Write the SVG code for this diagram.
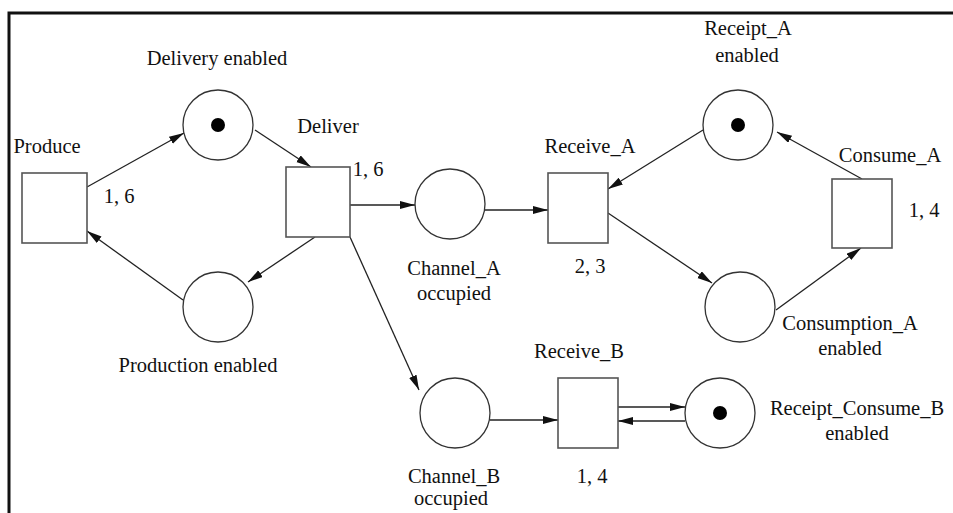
<svg xmlns="http://www.w3.org/2000/svg" width="953" height="513" viewBox="0 0 953 513">
<defs>
<marker id="ah" markerUnits="userSpaceOnUse" markerWidth="16" markerHeight="10" refX="15" refY="4" orient="auto">
<path d="M0,0 L15,4 L0,8 z" fill="#111"/>
</marker>
<style>
.frame{fill:none;stroke:#111;stroke-width:3}
.tr{fill:#fff;stroke:#555;stroke-width:1.6}
.pl{fill:#fff;stroke:#333;stroke-width:1.3}
.tok{fill:#000}
.arc{fill:none;stroke:#222;stroke-width:1.3;marker-end:url(#ah)}
text{font-family:"Liberation Serif","Times New Roman",serif;font-size:20.5px;fill:#111;text-anchor:middle}
</style>
</defs>
<rect width="953" height="513" fill="#fff"/>
<path class="frame" d="M9,513 L9,13 L953,13"/>
<g id="connectors">
<path class="arc" d="M87,187 L184,133"/>
<path class="arc" d="M255,130 L311,167"/>
<path class="arc" d="M315,237 L248,282"/>
<path class="arc" d="M183,300 L87,231"/>
<path class="arc" d="M348,205 L415,205"/>
<path class="arc" d="M350,237 L419,390"/>
<path class="arc" d="M485,210 L548,210"/>
<path class="arc" d="M703,130 L608,189"/>
<path class="arc" d="M608,213 L712,283"/>
<path class="arc" d="M776,310 L861,248"/>
<path class="arc" d="M862,179 L777,132"/>
<path class="arc" d="M490,420 L558,420"/>
<path class="arc" d="M613,407 L685,407"/>
<path class="arc" d="M685,421 L618,421"/>
</g>
<g id="produce">
<rect class="tr" x="22" y="173" width="65" height="70"/>
<text x="47" y="153">Produce</text>
<text x="119" y="203">1, 6</text>
</g>
<g id="delivery_enabled">
<circle class="pl" cx="218" cy="125" r="35"/>
<circle class="tok" cx="218" cy="125" r="7"/>
<text x="217" y="65">Delivery enabled</text>
</g>
<g id="deliver">
<rect class="tr" x="286" y="167" width="64" height="70"/>
<text x="328" y="133">Deliver</text>
<text x="368" y="176">1, 6</text>
</g>
<g id="production_enabled">
<circle class="pl" cx="218" cy="307" r="35"/>
<text x="198" y="372">Production enabled</text>
</g>
<g id="channel_a">
<circle class="pl" cx="450" cy="204" r="35"/>
<text x="454" y="275">Channel_A</text>
<text x="454" y="300">occupied</text>
</g>
<g id="receive_a">
<rect class="tr" x="548" y="173" width="60" height="70"/>
<text x="590" y="153">Receive_A</text>
<text x="590" y="273">2, 3</text>
</g>
<g id="receipt_a_enabled">
<circle class="pl" cx="738" cy="125" r="35"/>
<circle class="tok" cx="738" cy="125" r="7"/>
<text x="748" y="35">Receipt_A</text>
<text x="747" y="62">enabled</text>
</g>
<g id="consume_a">
<rect class="tr" x="832" y="179" width="60" height="69"/>
<text x="890" y="162">Consume_A</text>
<text x="924" y="217">1, 4</text>
</g>
<g id="consumption_a_enabled">
<circle class="pl" cx="740" cy="307" r="35"/>
<text x="850" y="330">Consumption_A</text>
<text x="850" y="355">enabled</text>
</g>
<g id="channel_b">
<circle class="pl" cx="455" cy="413" r="35"/>
<text x="454" y="483">Channel_B</text>
<text x="451" y="505">occupied</text>
</g>
<g id="receive_b">
<rect class="tr" x="558" y="378" width="60" height="70"/>
<text x="579" y="358">Receive_B</text>
<text x="592" y="483">1, 4</text>
</g>
<g id="receipt_consume_b_enabled">
<circle class="pl" cx="720" cy="413" r="35"/>
<circle class="tok" cx="720" cy="413" r="7"/>
<text x="857" y="415">Receipt_Consume_B</text>
<text x="857" y="440">enabled</text>
</g>
</svg>
